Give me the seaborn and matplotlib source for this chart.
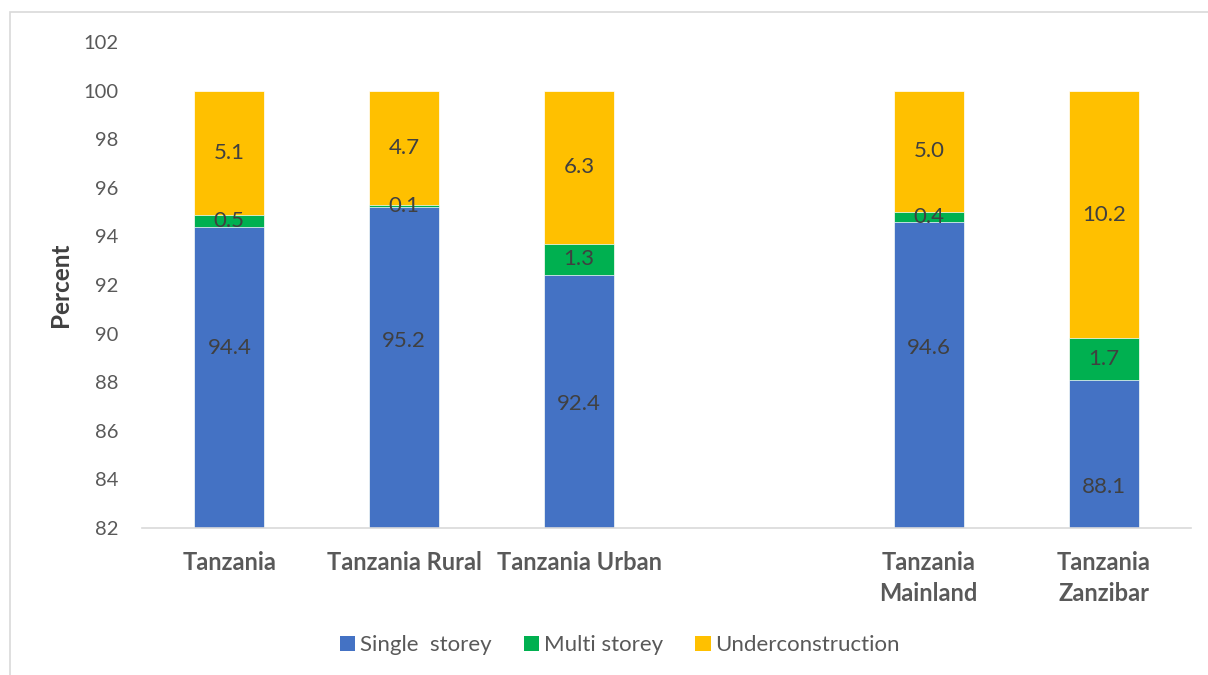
import matplotlib
matplotlib.use("Agg")
import matplotlib.pyplot as plt
from matplotlib.patches import Patch, Rectangle
import seaborn as sns
import pandas as pd
import numpy as np

categories = ["Tanzania", "Tanzania Rural", "Tanzania Urban", "",
              "Tanzania\nMainland", "Tanzania\nZanzibar"]
single_storey = [94.4, 95.2, 92.4, np.nan, 94.6, 88.1]
multi_storey = [0.5, 0.1, 1.3, np.nan, 0.4, 1.7]
under_construction = [5.1, 4.7, 6.3, np.nan, 5.0, 10.2]
single_label_y = [89.4, 89.7, 87.1, np.nan, 89.4, 83.7]
y_ticks = [82, 84, 86, 88, 90, 92, 94, 96, 98, 100, 102]

series_names = ["Single  storey", "Multi storey", "Underconstruction"]
colors = ["#4472C4", "#00B050", "#FFC000"]

sns.set_theme(style="white")
plt.rcParams["font.family"] = ["Lato", "DejaVu Sans"]

s = np.array(single_storey)
m = np.array(multi_storey)
u = np.array(under_construction)
cum = [s, s + m, s + m + u]

fig = plt.figure(figsize=(12.08, 6.75), dpi=100)
ax = fig.add_axes([0.1175, 0.2178, 0.9860 - 0.1175, 0.9378 - 0.2178])

for level, col in zip([2, 1, 0], [colors[2], colors[1], colors[0]]):
    df = pd.DataFrame({"cat": categories, "val": cum[level]}).dropna()
    sns.barplot(data=df, x="cat", y="val", order=categories, color=col,
                width=0.4, saturation=1, ax=ax, errorbar=None,
                edgecolor="white", linewidth=0.5)

ax.set_ylim(82, 102)
ax.set_xlim(-0.5, 5.5)
ax.set_yticks(y_ticks)
ax.set_yticklabels([str(t) for t in y_ticks], fontsize=14.5, color="#595959")
ax.tick_params(axis="y", length=0, pad=17)

ax.set_xticks(range(len(categories)))
ax.set_xticklabels(categories, fontsize=17, fontweight="bold", color="#595959",
                   linespacing=1.45)
ax.tick_params(axis="x", which="major", length=0, pad=16.5)
ax.set_xticks(np.arange(-0.5, len(categories)), minor=True)
ax.tick_params(axis="x", which="minor", length=8, color="#D9D9D9", width=1.2)

ax.set_xlabel("")
ax.set_ylabel("Percent", fontsize=17.5, fontweight="bold", color="#404040", labelpad=8)

for sp in ["top", "right", "left"]:
    ax.spines[sp].set_visible(False)
ax.spines["bottom"].set_color("#D9D9D9")
ax.spines["bottom"].set_linewidth(1.2)

lab_kw = dict(ha="center", va="center", fontsize=16, color="#404040")
for i in range(len(categories)):
    if np.isnan(s[i]):
        continue
    ax.text(i, single_label_y[i], f"{s[i]:.1f}", **lab_kw)
    ax.text(i, s[i] + m[i] / 2, f"{m[i]:.1f}", **lab_kw)
    ax.text(i, s[i] + m[i] + u[i] / 2, f"{u[i]:.1f}", **lab_kw)

handles = [Patch(facecolor=c, edgecolor="none") for c in colors]
fig.legend(handles, series_names, loc="center", bbox_to_anchor=(0.513, 0.044),
           ncol=3, frameon=False, fontsize=16, handlelength=0.7,
           handleheight=0.7, handletextpad=0.2, columnspacing=1.45,
           labelcolor="#595959")

fig.patches.append(Rectangle((10 / 1208, -0.1), 1.2, 1.1 - 12 / 675,
                             transform=fig.transFigure, fill=False,
                             edgecolor="#D9D9D9", linewidth=1.2))

fig.savefig("out.png", dpi=100, facecolor="white")
